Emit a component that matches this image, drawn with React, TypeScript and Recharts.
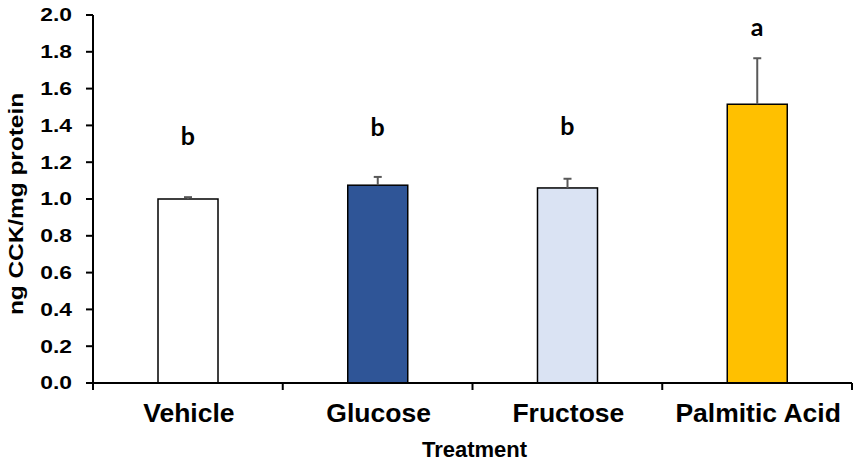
import React from 'react';
import { ComposedChart, Bar, Line, XAxis, YAxis } from 'recharts';

const categories = ['Vehicle', 'Glucose', 'Fructose', 'Palmitic Acid'];
const means = [1.0, 1.075, 1.06, 1.515];
const sems = [0.01, 0.045, 0.05, 0.25];
const letters = ['b', 'b', 'b', 'a'];
const letterLevels = [1.293, 1.342, 1.348, 1.886];
const fills = ['#FFFFFF', '#2F5597', '#DAE3F3', '#FFC000'];
const yTicks = [0, 0.2, 0.4, 0.6, 0.8, 1.0, 1.2, 1.4, 1.6, 1.8, 2.0];

const data = categories.map((name, i) => ({
  name,
  mean: means[i],
  sem: sems[i],
  letter: letters[i],
  letterY: letterLevels[i],
  fill: fills[i],
}));

const ARIAL = '"Liberation Sans", Arial, sans-serif';

const BarShape = (props: any) => {
  const { x, y, width, height, payload } = props;
  const pxPerUnit = height / payload.mean;
  const errPx = payload.sem * pxPerUnit;
  const cx = x + width / 2;
  return (
    <g>
      <rect x={x} y={y} width={width} height={height} fill={payload.fill} stroke="#000" strokeWidth={1.5} />
      <line x1={cx} y1={y} x2={cx} y2={y - errPx} stroke="#595959" strokeWidth={2} />
      <line x1={cx - 4} y1={y - errPx} x2={cx + 4} y2={y - errPx} stroke="#595959" strokeWidth={2} />
    </g>
  );
};

const LetterDot = (props: any) => {
  const { cx, cy, payload, index } = props;
  return (
    <text key={`l-${index}`} x={cx} y={cy} textAnchor="middle" fontFamily="Lato, sans-serif" fontWeight="bold" fontSize={25} fill="#000">
      {payload.letter}
    </text>
  );
};

const YTick = (props: any) => {
  const { x, y, payload } = props;
  return (
    <text transform={`translate(${x},${y}) scale(1.27,1)`} textAnchor="end" dy="0.36em" fontFamily={ARIAL} fontWeight="bold" fontSize={18} fill="#000">
      {Number(payload.value).toFixed(1)}
    </text>
  );
};

const XTick = (props: any) => {
  const { x, y, payload, index, visibleTicksCount } = props;
  const off = payload.offset ?? 94.875;
  const last = index === (visibleTicksCount ?? 4) - 1;
  return (
    <g>
      <line x1={x - off} y1={y} x2={x - off} y2={y + 7} stroke="#000" strokeWidth={2} />
      {last && <line x1={x + off} y1={y} x2={x + off} y2={y + 7} stroke="#000" strokeWidth={2} />}
      <text x={x + 1} y={y + 39} textAnchor="middle" fontFamily={ARIAL} fontWeight="bold" fontSize={26.5} fill="#000">
        {payload.value}
      </text>
    </g>
  );
};

const XLabel = (props: any) => {
  const { viewBox } = props;
  return (
    <text x={viewBox.x + viewBox.width / 2 + 2} y={viewBox.y + 74} textAnchor="middle" fontFamily={ARIAL} fontWeight="bold" fontSize={22} fill="#000">
      Treatment
    </text>
  );
};

const YLabel = () => (
  <text transform="translate(16,204) rotate(-90) scale(1.22,1)" textAnchor="middle" dy="0.36em" fontFamily={ARIAL} fontWeight="bold" fontSize={20} fill="#000">
    ng CCK/mg protein
  </text>
);

export default function App() {
  return (
    <div style={{ position: 'absolute', left: 0, top: 0, width: 856, height: 462, background: '#fff' }}>
      <ComposedChart width={856} height={462} data={data} margin={{ top: 15, right: 4, bottom: 0, left: 0 }}>
        <XAxis
          dataKey="name"
          interval={0}
          height={79}
          tickLine={false}
          tickSize={0}
          tickMargin={0}
          tick={<XTick />}
          axisLine={{ stroke: '#000', strokeWidth: 2 }}
          label={<XLabel />}
        />
        <YAxis
          domain={[0, 2]}
          ticks={yTicks}
          interval={0}
          width={93}
          tickSize={7}
          tickMargin={14}
          tick={<YTick />}
          tickLine={{ stroke: '#000', strokeWidth: 2 }}
          axisLine={{ stroke: '#000', strokeWidth: 2 }}
          label={<YLabel />}
        />
        <Bar dataKey="mean" barSize={60} shape={<BarShape />} isAnimationActive={false} />
        <Line dataKey="letterY" stroke="none" dot={<LetterDot />} activeDot={false} isAnimationActive={false} legendType="none" />
      </ComposedChart>
    </div>
  );
}
